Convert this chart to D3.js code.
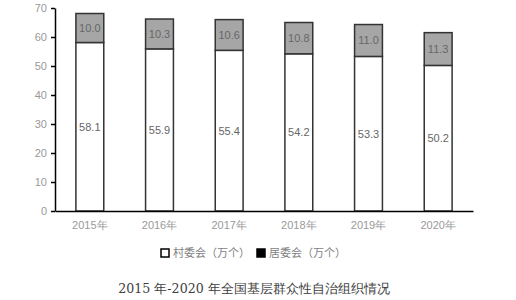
<!DOCTYPE html>
<html><head><meta charset="utf-8">
<script src="https://cdn.jsdelivr.net/npm/d3@7"></script>
<style>body{margin:0;background:#fff;}svg{display:block;}</style>
</head><body>
<svg id="c" width="516" height="300"></svg>
<script>
const years = ["2015年","2016年","2017年","2018年","2019年","2020年"];
const village = [58.1, 55.9, 55.4, 54.2, 53.3, 50.2];
const resident = [10.0, 10.3, 10.6, 10.8, 11.0, 11.3];
const yTicks = [0,10,20,30,40,50,60,70];
const legendLabels = ["村委会（万个）","居委会（万个）"];
const title = "2015 年-2020 年全国基层群众性自治组织情况";

const svg = d3.select("#c");
const m = {l:55, r:43, t:8, b:89};
const W = 516, H = 300;
const x = d3.scaleBand().domain(years).range([m.l, W - m.r]).paddingInner(0.6).paddingOuter(0.3);
const y = d3.scaleLinear().domain([0,70]).range([211, 8]);
const font = "'Liberation Sans', Arial, sans-serif";

// y axis
const ya = svg.append("g").attr("transform", `translate(${m.l},0)`)
  .call(d3.axisLeft(y).tickValues(yTicks).tickSize(4).tickSizeOuter(0));
ya.select(".domain").attr("stroke","#000").attr("stroke-width",1.5);
ya.selectAll(".tick line").attr("stroke","#000").attr("stroke-width",1.5);
ya.selectAll(".tick text").attr("fill","#999").attr("font-size",11).attr("font-family",font).attr("x",-8);

// bars
const g = svg.append("g");
years.forEach((yr,i)=>{
  const v = village[i], r = resident[i];
  g.append("rect").attr("x", x(yr)).attr("width", x.bandwidth())
    .attr("y", y(v)).attr("height", y(0)-y(v))
    .attr("fill","#fff").attr("stroke","#333").attr("stroke-width",1.5);
  g.append("rect").attr("x", x(yr)).attr("width", x.bandwidth())
    .attr("y", y(v+r)).attr("height", y(v)-y(v+r))
    .attr("fill","#a6a6a6").attr("stroke","#333").attr("stroke-width",1.5);
  g.append("text").attr("x", x(yr)+x.bandwidth()/2).attr("y", y(v/2)).attr("dy","0.35em")
    .attr("text-anchor","middle").attr("font-size",11).attr("font-family",font).attr("fill","#666").text(v.toFixed(1));
  g.append("text").attr("x", x(yr)+x.bandwidth()/2).attr("y", y(v+r/2)).attr("dy","0.35em")
    .attr("text-anchor","middle").attr("font-size",11).attr("font-family",font).attr("fill","#666").text(r.toFixed(1));
});

// x axis
const xa = svg.append("g").attr("transform", `translate(0,${y(0)})`)
  .call(d3.axisBottom(x).tickSize(0).tickSizeOuter(0));
xa.select(".domain").attr("stroke","#000").attr("stroke-width",1.5);
xa.selectAll(".tick text").attr("fill","#999").attr("font-size",11).attr("font-family",font).attr("dy","0.35em").attr("y",14);

// legend
const lg = svg.append("g");
const lx = [161, 257];
legendLabels.forEach((t,i)=>{
  lg.append("rect").attr("x", lx[i]).attr("y", 249).attr("width", 8).attr("height", 8)
    .attr("fill", i===0 ? "#fff" : "#000").attr("stroke","#000").attr("stroke-width",1.5);
  lg.append("text").attr("x", lx[i]+12).attr("y", 253).attr("dy","0.35em")
    .attr("font-size",11).attr("font-family","'Noto Sans CJK SC', sans-serif").attr("fill","#7f7f7f").text(t);
});

// title
svg.append("text").attr("x", 254).attr("y", 289).attr("dy","0.35em").attr("text-anchor","middle")
  .attr("font-size",12.6).attr("font-family","'DejaVu Serif', serif").attr("fill","#404040").text(title);
</script>
</body></html>
